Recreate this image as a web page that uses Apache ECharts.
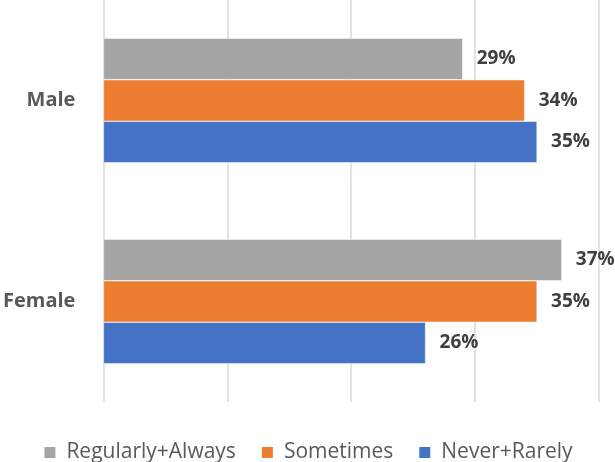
<!DOCTYPE html>
<html>
<head>
<meta charset="utf-8">
<script src="https://cdn.jsdelivr.net/npm/echarts@6/dist/echarts.min.js"></script>
<style>
  html, body { margin: 0; padding: 0; background: #fff; }
  #chart { width: 615px; height: 462px; }
</style>
</head>
<body>
<div id="chart"></div>
<script>
const categories = ["Male", "Female"];
const seriesNames = ["Regularly+Always", "Sometimes", "Never+Rarely"];
const regularlyAlways = [29, 37];
const sometimes = [34, 35];
const neverRarely = [35, 26];
const xTicks = [0, 10, 20, 30, 40];

const colors = ["#a5a5a5", "#ed7d31", "#4472c4"];
const font = "'Open Sans', 'Noto Sans', sans-serif";

const chart = echarts.init(document.getElementById("chart"));

function makeSeries(name, data, color) {
  return {
    name,
    type: "bar",
    data,
    barGap: "0%",
    barCategoryGap: "38%",
    itemStyle: { color, borderColor: "#fff", borderWidth: 0.5 },
    label: {
      show: true,
      position: "right",
      distance: 14,
      formatter: p => p.value + "%",
      color: "#404040",
      fontWeight: "bold",
      fontSize: 19,
      fontFamily: font
    }
  };
}

const option = {
  backgroundColor: "#fff",
  animation: false,
  color: colors,
  grid: { left: 103, right: 16, top: 0, bottom: 60, containLabel: false },
  legend: {
    bottom: -6,
    left: "center",
    itemWidth: 13,
    itemHeight: 13,
    itemGap: 24,
    icon: "rect",
    textStyle: { color: "#595959", fontSize: 21, fontFamily: font, padding: [0, 0, 0, 5] },
    data: seriesNames
  },
  xAxis: {
    type: "value",
    min: xTicks[0],
    max: xTicks[xTicks.length - 1],
    interval: 10,
    axisLabel: { show: false },
    axisLine: { show: false },
    axisTick: { show: false },
    splitLine: { lineStyle: { color: "#d9d9d9", width: 1.5 } }
  },
  yAxis: {
    type: "category",
    data: categories,
    inverse: true,
    axisLine: { show: false },
    axisTick: { show: false },
    axisLabel: {
      color: "#595959",
      fontWeight: "bold",
      fontSize: 20,
      fontFamily: font,
      margin: 28
    }
  },
  series: [
    makeSeries(seriesNames[0], regularlyAlways, colors[0]),
    makeSeries(seriesNames[1], sometimes, colors[1]),
    makeSeries(seriesNames[2], neverRarely, colors[2])
  ]
};

chart.setOption(option);
window.addEventListener("resize", () => chart.resize());
</script>
</body>
</html>
